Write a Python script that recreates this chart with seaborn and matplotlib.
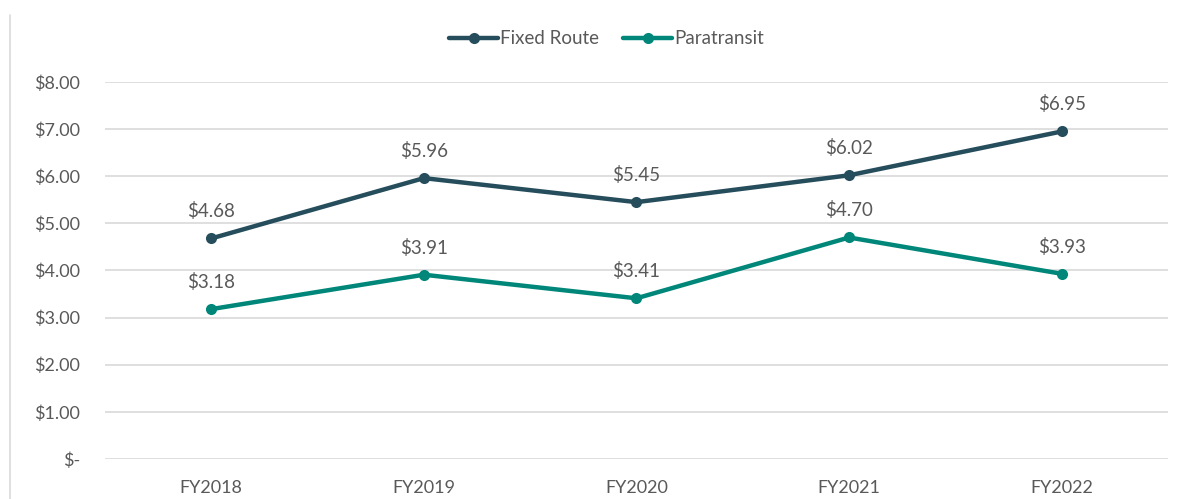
import matplotlib
matplotlib.use("Agg")
import matplotlib.pyplot as plt
import seaborn as sns
import pandas as pd
from matplotlib.lines import Line2D

years = ["FY2018", "FY2019", "FY2020", "FY2021", "FY2022"]
fixed_route = [4.68, 5.96, 5.45, 6.02, 6.95]
paratransit = [3.18, 3.91, 3.41, 4.70, 3.93]
series_names = ["Fixed Route", "Paratransit"]
colors = ["#264D5C", "#00877A"]
yticks = [0, 1, 2, 3, 4, 5, 6, 7, 8]
ytick_labels = ["$-", "$1.00", "$2.00", "$3.00", "$4.00", "$5.00", "$6.00", "$7.00", "$8.00"]

sns.set_theme(style="white")
plt.rcParams["font.family"] = ["Lato", "DejaVu Sans"]

df = pd.DataFrame({
    "Year": years * 2,
    "Value": fixed_route + paratransit,
    "Series": [series_names[0]] * len(years) + [series_names[1]] * len(years),
})
df["x"] = df["Year"].map({y: i for i, y in enumerate(years)})

fig = plt.figure(figsize=(11.78, 4.99), dpi=100)
ax = fig.add_axes([0.0891, 0.0802, 0.9024, 0.7555])

sns.lineplot(data=df, x="x", y="Value", hue="Series", palette=colors,
             marker="o", markersize=8, markeredgewidth=0, linewidth=3.2,
             ax=ax, legend=False, clip_on=False, zorder=3)

text_color = "#595959"
for name, vals in zip(series_names, [fixed_route, paratransit]):
    for i, v in enumerate(vals):
        ax.annotate(f"${v:.2f}", (i, v), xytext=(0, 13), textcoords="offset points",
                    ha="center", va="bottom", fontsize=13.5, color=text_color)

ax.set_xlim(-0.5, len(years) - 0.5)
ax.set_ylim(0, 8)
ax.set_xticks(range(len(years)))
ax.set_xticklabels(years, fontsize=13, color=text_color)
ax.set_yticks(yticks)
ax.set_yticklabels(ytick_labels, fontsize=13, color=text_color)
ax.tick_params(axis="both", length=0)
ax.tick_params(axis="y", pad=18)
ax.tick_params(axis="x", pad=15)
ax.set_xlabel("")
ax.set_ylabel("")
ax.grid(axis="y", color="#D9D9D9", linewidth=1.2)
ax.set_axisbelow(True)
for s in ax.spines.values():
    s.set_visible(False)

handles = [Line2D([0], [0], color=c, linewidth=3.2, marker="o", markersize=8, markeredgewidth=0)
           for c in colors]
fig.legend(handles, series_names, loc="center", bbox_to_anchor=(0.515, 0.922), ncol=2,
           frameon=False, fontsize=13.5, handlelength=2.6, handletextpad=0.1, columnspacing=1.3,
           labelcolor=text_color)

# chart area left border
fig.add_artist(Line2D([0.0085, 0.0085], [0.0, 0.97], color="#D9D9D9", linewidth=1.2,
                      transform=fig.transFigure))

fig.savefig("out.png", dpi=100, facecolor="white")
